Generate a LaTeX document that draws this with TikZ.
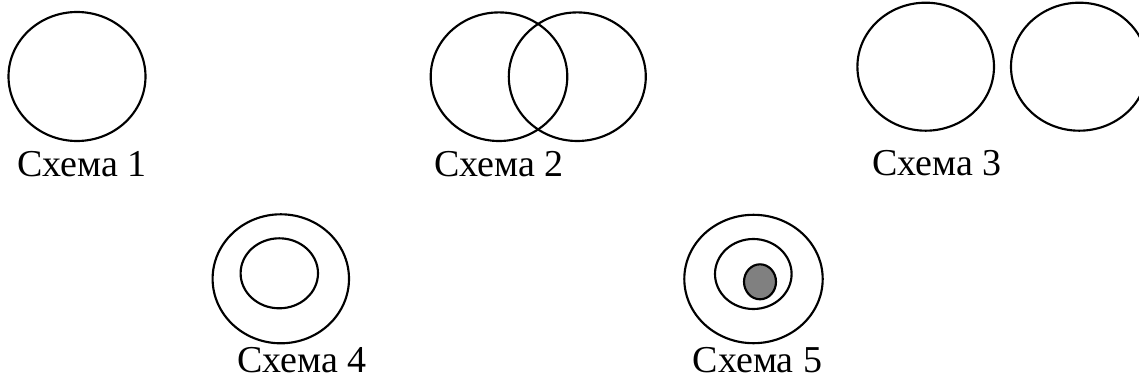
\documentclass[tikz,border=0pt]{standalone}
\usepackage{fontspec}
\setmainfont{Liberation Serif}
\begin{document}
\begin{tikzpicture}[x=0.75pt,y=-0.75pt,
  ring/.style={draw=black,line width=1.6pt},
  core/.style={draw=black,line width=1.6pt,fill=black!50},
  caption/.style={anchor=base west,inner sep=0pt,font=\fontsize{28.5}{34}\selectfont}]
\useasboundingbox (0,0) rectangle (1139,381);
\begin{scope}
\clip (0,0) rectangle (1139,381);
% Scheme 1: a single set
\draw[ring] (77,76.5) ellipse [x radius=68.5,y radius=64.5];
% Scheme 2: two overlapping sets
\draw[ring] (499,76.7) ellipse [x radius=68.3,y radius=64.3];
\draw[ring] (577.3,76.7) ellipse [x radius=68.5,y radius=64.3];
% Scheme 3: two disjoint sets
\draw[ring] (925.7,66.7) ellipse [x radius=68.3,y radius=64];
\draw[ring] (1079.3,66.7) ellipse [x radius=68.3,y radius=64];
% Scheme 4: one set inside another
\draw[ring] (280.8,278.8) ellipse [x radius=68.2,y radius=64.5];
\draw[ring] (279.3,273.3) ellipse [x radius=38.7,y radius=35];
% Scheme 5: three nested sets
\draw[ring] (753.5,279) ellipse [x radius=69.2,y radius=64.2];
\draw[ring] (753.3,274) ellipse [x radius=38.3,y radius=35];
\draw[core] (760,281.8) ellipse [x radius=16,y radius=17.5];
\end{scope}
\node[caption] (c1) at (17,177) {Схема 1};
\node[caption] (c2) at (434,177) {Схема 2};
\node[caption] (c3) at (872,176) {Схема 3};
\node[caption] (c4) at (237,372) {Схема 4};
\node[caption] (c5) at (692.5,372) {Схема 5};
\end{tikzpicture}
\end{document}
